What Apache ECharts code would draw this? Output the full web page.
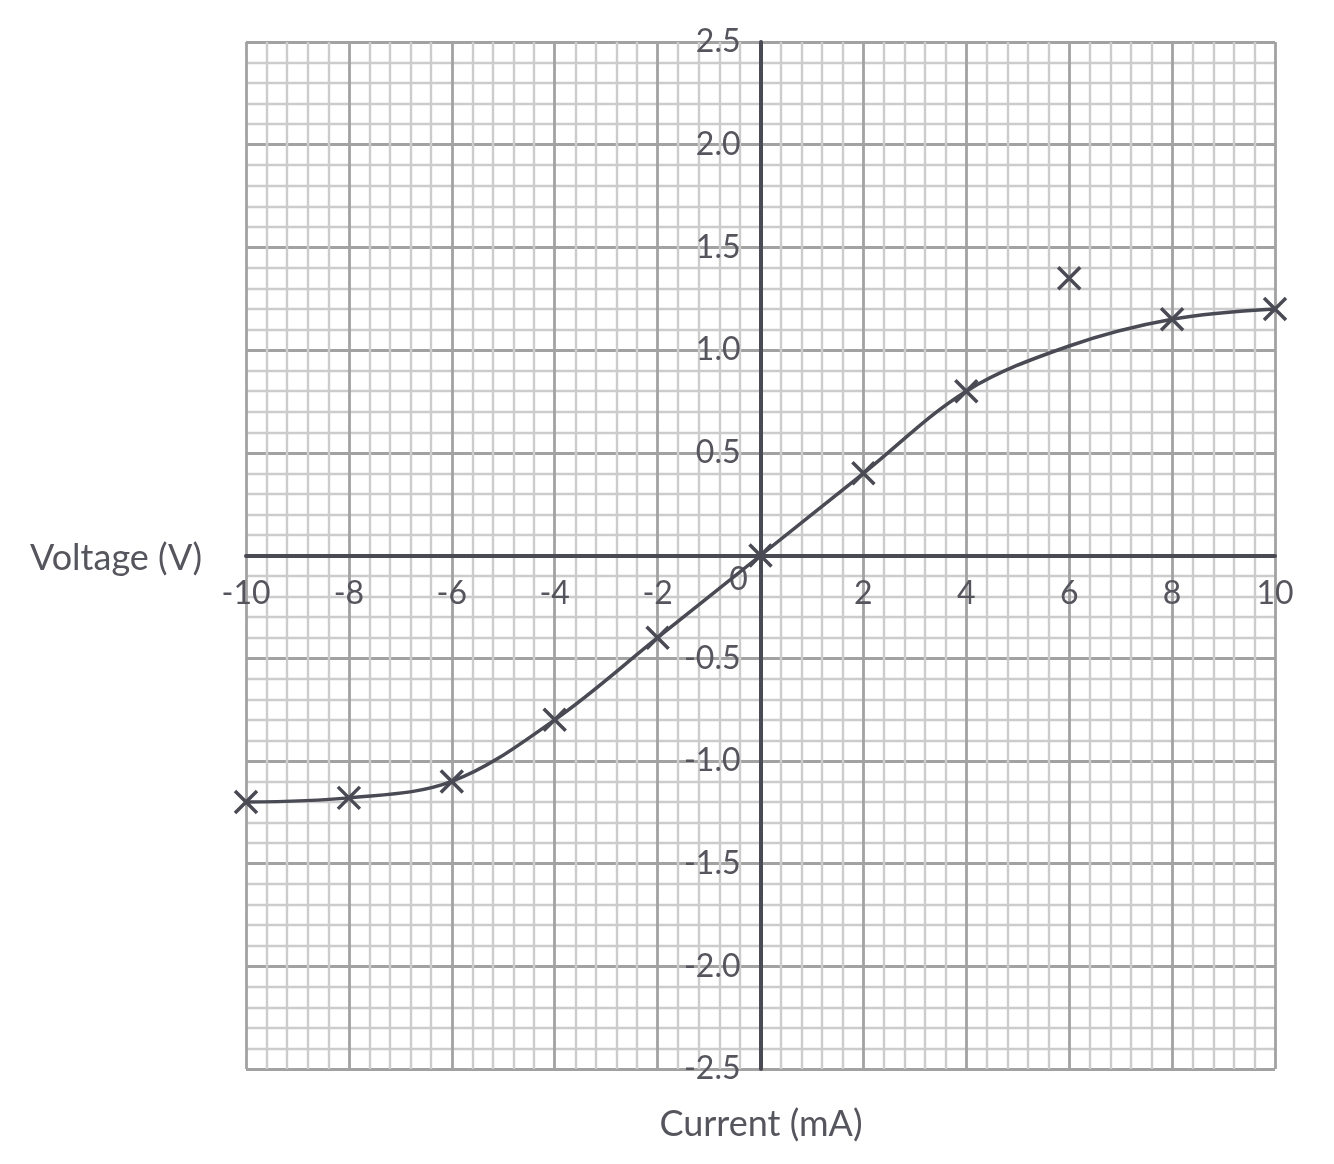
<!DOCTYPE html>
<html><head><meta charset="utf-8">
<script src="https://cdn.jsdelivr.net/npm/echarts@6/dist/echarts.min.js"></script>
<style>html,body{margin:0;padding:0;background:#fff;}#c{width:1334px;height:1164px;}</style>
</head><body><div id="c"></div>
<script>
// measured points (current mA, voltage V)
const currentX = [-10, -8, -6, -4, -2, 0, 2, 4, 6, 8, 10];
const voltageY = [-1.2, -1.18, -1.1, -0.8, -0.4, 0, 0.4, 0.8, 1.35, 1.15, 1.2];
// best-fit curve (ignores anomalous point at 6 mA)
const curveX = [-10, -8, -6, -4, -2, 0, 2, 4, 6, 8, 10];
const curveY = [-1.2, -1.18, -1.1, -0.8, -0.4, 0, 0.4, 0.8, 1.02, 1.15, 1.2];
const xTitle = 'Current (mA)';
const yTitle = 'Voltage (V)';

const FONT = 'Lato';
const TXT = '#55555d';
const DARK = '#4a4a55';

const chart = echarts.init(document.getElementById('c'), null, {renderer: 'canvas'});
const option = {
  animation: false,
  backgroundColor: '#fff',
  grid: {left: 246, right: 59, top: 42, bottom: 95, containLabel: false},
  xAxis: {
    type: 'value', min: -10, max: 10, interval: 2,
    axisLine: {show: true, onZero: false, lineStyle: {color: DARK, width: 4}},
    axisTick: {show: false},
    axisLabel: {
      margin: 22, fontSize: 32, fontFamily: FONT, color: TXT,
      formatter: v => v === 0 ? '' : String(v)
    },
    splitLine: {show: true, lineStyle: {color: '#a2a2a2', width: 2.8}},
    minorTick: {show: false, splitNumber: 5},
    minorSplitLine: {show: true, lineStyle: {color: '#cccccc', width: 2.4}}
  },
  yAxis: {
    type: 'value', min: -2.5, max: 2.5, interval: 0.5,
    axisLine: {show: true, onZero: false, lineStyle: {color: DARK, width: 4}},
    axisTick: {show: false},
    axisLabel: {
      margin: 20, fontSize: 32, fontFamily: FONT, color: TXT,
      formatter: v => v === 0 ? '' : v.toFixed(1)
    },
    splitLine: {show: true, lineStyle: {color: '#a2a2a2', width: 2.8}},
    minorTick: {show: false, splitNumber: 5},
    minorSplitLine: {show: true, lineStyle: {color: '#cccccc', width: 2.4}}
  },
  series: [
    {
      type: 'line', smooth: 0.35, showSymbol: false, silent: true,
      data: curveX.map((x, i) => [x, curveY[i]]),
      lineStyle: {color: DARK, width: 3.5}, z: 3
    },
    {
      type: 'scatter',
      symbol: 'path://M0,0L10,10M10,0L0,10',
      symbolSize: 22,
      data: currentX.map((x, i) => [x, voltageY[i]]),
      itemStyle: {color: 'none', borderColor: DARK, borderWidth: 3.5, opacity: 1},
      z: 4
    }
  ]
};
chart.setOption(option);

// move both axes (line + labels) onto the zero lines
const origin = chart.convertToPixel({gridIndex: 0}, [0, 0]);
const rect = chart.getModel().getComponent('grid', 0).coordinateSystem.getRect();
chart.setOption({
  xAxis: {offset: -(rect.y + rect.height - origin[1])},
  yAxis: {offset: -(origin[0] - rect.x)},
  graphic: [
    {type: 'text', x: 30, y: 558, style: {text: yTitle, font: '36px ' + FONT, fill: TXT, textVerticalAlign: 'middle'}},
    {type: 'text', x: 761, y: 1124, style: {text: xTitle, font: '36px ' + FONT, fill: TXT, textAlign: 'center', textVerticalAlign: 'middle'}},
    {type: 'text', x: origin[0] - 22, y: origin[1] + 24, style: {text: '0', font: '32px ' + FONT, fill: TXT, textAlign: 'center', textVerticalAlign: 'middle'}}
  ]
});
</script>
</body></html>
